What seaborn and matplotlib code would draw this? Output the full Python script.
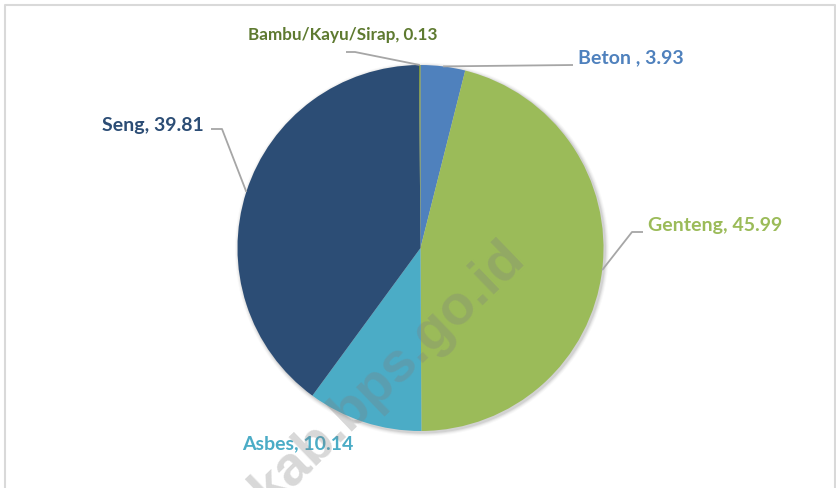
import numpy as np
import matplotlib
matplotlib.use("Agg")
import matplotlib.pyplot as plt
import seaborn as sns
from matplotlib.patches import Circle

# Roof material shares (%)
categories = ["Beton ", "Genteng", "Asbes", "Seng", "Bambu/Kayu/Sirap"]
shares = [3.93, 45.99, 10.14, 39.81, 0.13]
slice_colors = ["#4F81BD", "#9BBB59", "#4BACC6", "#2C4D75", "#77933C"]
label_colors = ["#4F81BD", "#9BBB59", "#4BACC6", "#2C4D75", "#5E7A30"]

sns.set_theme(style="white")
plt.rcParams["font.family"] = ["Lato", "DejaVu Sans"]

W, H = 836, 488
fig = plt.figure(figsize=(W / 100, H / 100), dpi=100)
fig.patch.set_facecolor("white")
ax = fig.add_axes([0, 0, 1, 1])

cx, cy, R = 420.5, H - 248, 183

# soft drop shadow behind the pie
for k, a in [(4, 0.025), (3, 0.035), (2, 0.05), (1, 0.07)]:
    ax.add_patch(Circle((cx + 1.5, cy - 1.5), R + k, color="black", alpha=a, lw=0, zorder=0))

wedges, _ = ax.pie(shares, colors=slice_colors, startangle=90, counterclock=False,
                   radius=R, center=(cx, cy), wedgeprops=dict(linewidth=0))
for w in wedges:
    w.set_zorder(2)

ax.set_xlim(0, W)
ax.set_ylim(0, H)
ax.set_aspect("equal")
ax.axis("off")

# label placement (pixel offsets from the top-left corner) and leader elbows
layout = {
    "Beton ": dict(xy=(578, 58), ha="left", size=14, path=[(573, 65)]),
    "Genteng": dict(xy=(648, 226), ha="left", size=14, path=[(632, 232), (643, 232)]),
    "Asbes": dict(xy=(242, 444), ha="left", size=14, path=None),
    "Seng": dict(xy=(204, 125), ha="right", size=14, path=[(222, 129), (211, 129)]),
    "Bambu/Kayu/Sirap": dict(xy=(343, 35), ha="center", size=12.3, path=[(355, 52), (346, 52)]),
}

for w, name, val, col in zip(wedges, categories, shares, label_colors):
    spec = layout[name]
    if spec["path"]:
        mid = np.deg2rad((w.theta1 + w.theta2) / 2)
        sx, sy = cx + R * np.cos(mid), cy + R * np.sin(mid)
        xs = [sx] + [p[0] for p in spec["path"]]
        ys = [sy] + [H - p[1] for p in spec["path"]]
        ax.plot(xs, ys, color="#A6A6A6", lw=1.3, zorder=3, solid_capstyle="butt")
    tx, ty = spec["xy"]
    ax.text(tx, H - ty, f"{name}, {val:.2f}", color=col, fontsize=spec["size"],
            fontweight="bold", ha=spec["ha"], va="center", zorder=4)

# watermark
ax.text(388, H - 374, "kab.bps.go.id", rotation=44, rotation_mode="anchor",
        fontsize=40, fontweight="bold", color="#7F7F7F", alpha=0.3,
        ha="center", va="center", family=["Liberation Sans", "DejaVu Sans"], zorder=5)

# chart area border
ax.plot([5, 5, 835, 835], [-5, H - 5, H - 5, -5], color="#D9D9D9", lw=1.5,
        clip_on=False, zorder=6)

fig.savefig("out.png", dpi=100, facecolor="white")
